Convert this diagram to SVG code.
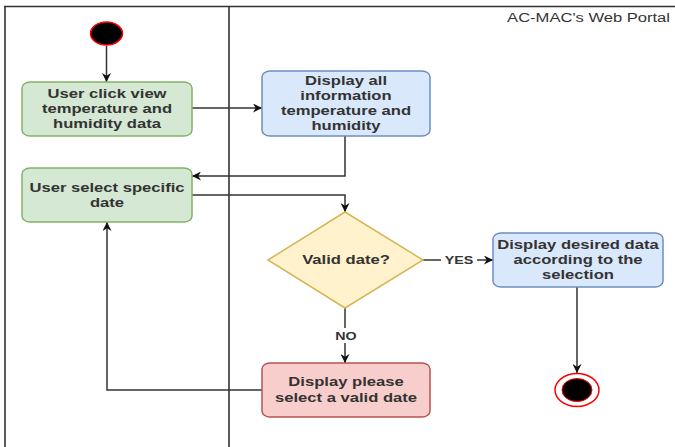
<svg xmlns="http://www.w3.org/2000/svg" width="675" height="447" viewBox="0 0 675 447">
<style>
.frame{stroke:#333;stroke-width:1.6;fill:none}
.conn path{fill:none;stroke:#333;stroke-width:1.5}
.lbl{font-family:"Liberation Sans",Arial,sans-serif;font-size:12.5px;font-weight:bold;fill:#333;text-anchor:middle}
.elab{font-family:"Liberation Sans",Arial,sans-serif;font-size:11px;font-weight:bold;fill:#333;text-anchor:middle}
.title{font-family:"Liberation Sans",Arial,sans-serif;font-size:12px;fill:#333;text-anchor:end}
.green{fill:#d5e8d4;stroke:#82b366;stroke-width:1.5}
.blue{fill:#dae8fc;stroke:#6c8ebf;stroke-width:1.5}
.yellow{fill:#fff2cc;stroke:#d6b656;stroke-width:1.5}
.red{fill:#f8cecc;stroke:#b85450;stroke-width:1.5}
</style>
<defs>
<marker id="arr" viewBox="0 0 10 10" refX="10" refY="5" markerWidth="10" markerHeight="9" markerUnits="userSpaceOnUse" orient="auto">
<path d="M0,0 L10,5 L0,10 L3,5 Z" fill="#111"/>
</marker>
</defs>
<rect width="675" height="447" fill="#fff"/>
<g id="pool">
<path class="frame" d="M4,6.5 L675,6.5 M5,6 L5,447 M229,6 L229,447"/>
<g transform="translate(670,21.5) scale(1.38,1)"><text class="title" x="0" y="0">AC-MAC's Web Portal</text></g>
</g>
<g class="conn" id="connectors">
<path d="M106.5,46 L106.5,82" marker-end="url(#arr)"/>
<path d="M192,108 L262,108" marker-end="url(#arr)"/>
<path d="M345,136 L345,176 L192,176" marker-end="url(#arr)"/>
<path d="M192,195 L345,195 L345,212" marker-end="url(#arr)"/>
<path d="M423,260 L493,260" marker-end="url(#arr)"/>
<path d="M345,308 L345,363" marker-end="url(#arr)"/>
<path d="M577,287 L577,373" marker-end="url(#arr)"/>
<path d="M262,390 L107,390 L107,222" marker-end="url(#arr)"/>
<rect x="441" y="252" width="36" height="15" fill="#fff"/>
<g transform="translate(459,264) scale(1.3,1)"><text class="elab" x="0" y="0">YES</text></g>
<rect x="333" y="328" width="26" height="15" fill="#fff"/>
<g transform="translate(346,340) scale(1.3,1)"><text class="elab" x="0" y="0">NO</text></g>
</g>
<g id="start">
<ellipse cx="106.5" cy="33.5" rx="16" ry="11.5" fill="#000" stroke="#ff0000" stroke-width="1.5"/>
</g>
<g id="n1">
<rect class="green" x="22" y="82" width="170" height="54" rx="8" ry="6"/>
<g transform="translate(107,0) scale(1.33,1)">
<text class="lbl" x="0" y="98.5">User click view</text>
<text class="lbl" x="0" y="113.5">temperature and</text>
<text class="lbl" x="0" y="128.5">humidity data</text>
</g>
</g>
<g id="n2">
<rect class="blue" x="262" y="71" width="168" height="65" rx="8" ry="6"/>
<g transform="translate(346,0) scale(1.33,1)">
<text class="lbl" x="0" y="85.5">Display all</text>
<text class="lbl" x="0" y="100.5">information</text>
<text class="lbl" x="0" y="115.5">temperature and</text>
<text class="lbl" x="0" y="130.5">humidity</text>
</g>
</g>
<g id="n3">
<rect class="green" x="22" y="168" width="170" height="54" rx="8" ry="6"/>
<g transform="translate(107,0) scale(1.33,1)">
<text class="lbl" x="0" y="192.5">User select specific</text>
<text class="lbl" x="0" y="207.5">date</text>
</g>
</g>
<g id="decision">
<polygon class="yellow" points="345,212 423,260 345,308 268,260"/>
<g transform="translate(346,0) scale(1.33,1)">
<text class="lbl" x="0" y="264.5">Valid date?</text>
</g>
</g>
<g id="n4">
<rect class="blue" x="493" y="233" width="170" height="54" rx="8" ry="6"/>
<g transform="translate(578,0) scale(1.33,1)">
<text class="lbl" x="0" y="249.5">Display desired data</text>
<text class="lbl" x="0" y="264.5">according to the</text>
<text class="lbl" x="0" y="279.5">selection</text>
</g>
</g>
<g id="n5">
<rect class="red" x="262" y="363" width="168" height="54" rx="8" ry="6"/>
<g transform="translate(346,0) scale(1.33,1)">
<text class="lbl" x="0" y="386.5">Display please</text>
<text class="lbl" x="0" y="402">select a valid date</text>
</g>
</g>
<g id="end">
<ellipse cx="577" cy="390" rx="22" ry="16.5" fill="#fff" stroke="#ff0000" stroke-width="1.5"/>
<ellipse cx="577" cy="390" rx="15" ry="11.5" fill="#000" stroke="#ff0000" stroke-width="1"/>
</g>
</svg>
